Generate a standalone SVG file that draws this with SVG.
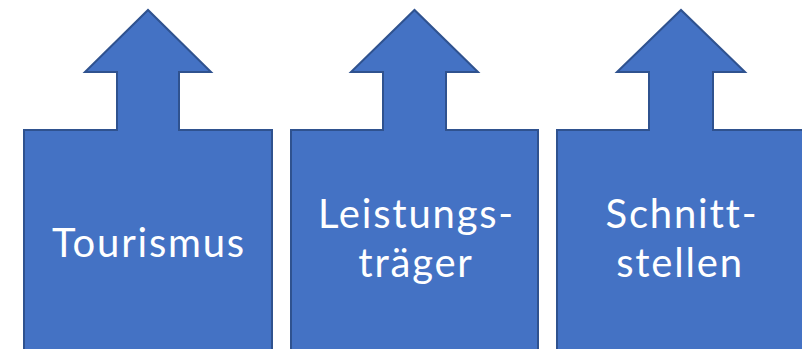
<svg xmlns="http://www.w3.org/2000/svg" width="802" height="349" viewBox="0 0 802 349">
<style>
.shape{fill:#4472C4;stroke:#2F528F;stroke-width:2;stroke-linejoin:miter}
.lbl{font-family:Lato,"Open Sans","Liberation Sans",sans-serif;font-size:40px;letter-spacing:1.8px;fill:#FFFFFF;text-anchor:middle}
</style>
<rect width="802" height="349" fill="#FFFFFF"/>
<g id="node-tourismus">
<path class="shape" d="M24,360 L24,130 L117,130 L117,72 L85,72 L148,10 L211,72 L179,72 L179,130 L272,130 L272,360 Z"/>
<text class="lbl" x="149" y="257">Tourismus</text>
</g>
<g id="node-leistungstraeger">
<path class="shape" d="M291,360 L291,130 L383,130 L383,72 L351,72 L414.5,10 L478,72 L446,72 L446,130 L538,130 L538,360 Z"/>
<text class="lbl" x="416.5" y="228">Leistungs-</text>
<text class="lbl" x="416" y="277">träger</text>
</g>
<g id="node-schnittstellen">
<path class="shape" d="M557,360 L557,130 L649,130 L649,72 L617,72 L681,10 L745,72 L713,72 L713,130 L805,130 L805,360 Z"/>
<text class="lbl" x="682" y="228">Schnitt-</text>
<text class="lbl" x="680" y="277">stellen</text>
</g>
<g id="connectors"></g>
</svg>
